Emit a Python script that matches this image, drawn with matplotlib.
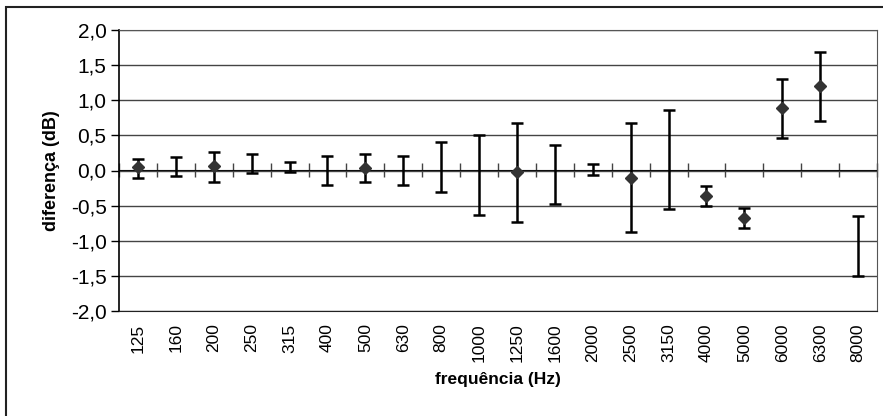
import numpy as np
import matplotlib
matplotlib.use("Agg")
from matplotlib import pyplot as plt
from matplotlib.ticker import FuncFormatter, MultipleLocator
from matplotlib.patches import Rectangle

freqs = ["125", "160", "200", "250", "315", "400", "500", "630", "800", "1000",
         "1250", "1600", "2000", "2500", "3150", "4000", "5000", "6000", "6300", "8000"]
nan = np.nan
media = [0.05, nan, 0.06, nan, nan, nan, 0.04, nan, nan, nan,
         -0.02, nan, nan, -0.10, nan, -0.36, -0.68, 0.89, 1.20, nan]
limite_inf = [-0.11, -0.08, -0.16, -0.04, -0.02, -0.21, -0.17, -0.21, -0.30, -0.63,
              -0.73, -0.48, -0.06, -0.87, -0.55, -0.51, -0.82, 0.46, 0.70, -1.50]
limite_sup = [0.17, 0.19, 0.26, 0.24, 0.12, 0.21, 0.24, 0.21, 0.40, 0.50,
              0.67, 0.36, 0.09, 0.68, 0.86, -0.22, -0.54, 1.30, 1.68, -0.65]

plt.rcParams["font.family"] = ["Liberation Sans", "DejaVu Sans"]

fig = plt.figure(figsize=(8.83, 4.16), dpi=100)
ax = fig.add_axes([119/883, 1-311/416, 758/883, 281/416])

x = np.arange(len(freqs))
inf = np.array(limite_inf)
sup = np.array(limite_sup)
centro = (inf + sup) / 2
ax.errorbar(x, centro, yerr=(sup - inf) / 2, fmt="none", ecolor="black",
            elinewidth=1.8, capsize=4, capthick=1.8, zorder=3)
ax.plot(x, media, linestyle="none", marker="D", markersize=6,
        color="#333333", zorder=4)

ax.set_xlim(-0.5, len(freqs) - 0.5)
ax.set_ylim(-2, 2)
ax.yaxis.set_major_locator(MultipleLocator(0.5))
ax.yaxis.set_major_formatter(FuncFormatter(lambda v, p: ("%.1f" % v).replace(".", ",")))
ax.grid(axis="y", color="#444444", linewidth=1.0)
ax.set_axisbelow(True)

ax.set_xticks(x)
ax.set_xticklabels(freqs, rotation=90, fontsize=12.5)
ax.tick_params(axis="x", length=0, pad=9)
ax.tick_params(axis="y", direction="out", length=6, width=1, labelsize=15, pad=3)

for s in ["top", "right"]:
    ax.spines[s].set_color("#555555")
    ax.spines[s].set_linewidth(0.8)
ax.spines["bottom"].set_color("#222222")
ax.spines["left"].set_color("black")
ax.spines["left"].set_linewidth(1.2)

# eixo horizontal em zero com marcas entre categorias
sec = ax.secondary_xaxis(0.5)
sec.set_xticks(np.arange(len(freqs) + 1) - 0.5)
sec.set_xticklabels([])
sec.tick_params(direction="inout", length=10, width=1, color="#444444")
sec.spines["bottom"].set_color("#333333")

ax.set_ylabel("diferença (dB)", fontsize=13, fontweight="bold", labelpad=8)
ax.set_xlabel("frequência (Hz)", fontsize=12.5, fontweight="bold", labelpad=7)

fig.patches.append(Rectangle((6/883, -0.1), 1.2, 1.1 - 7/416, transform=fig.transFigure,
                             fill=False, edgecolor="#222222", linewidth=1.5))

plt.savefig("out.png", dpi=100)
